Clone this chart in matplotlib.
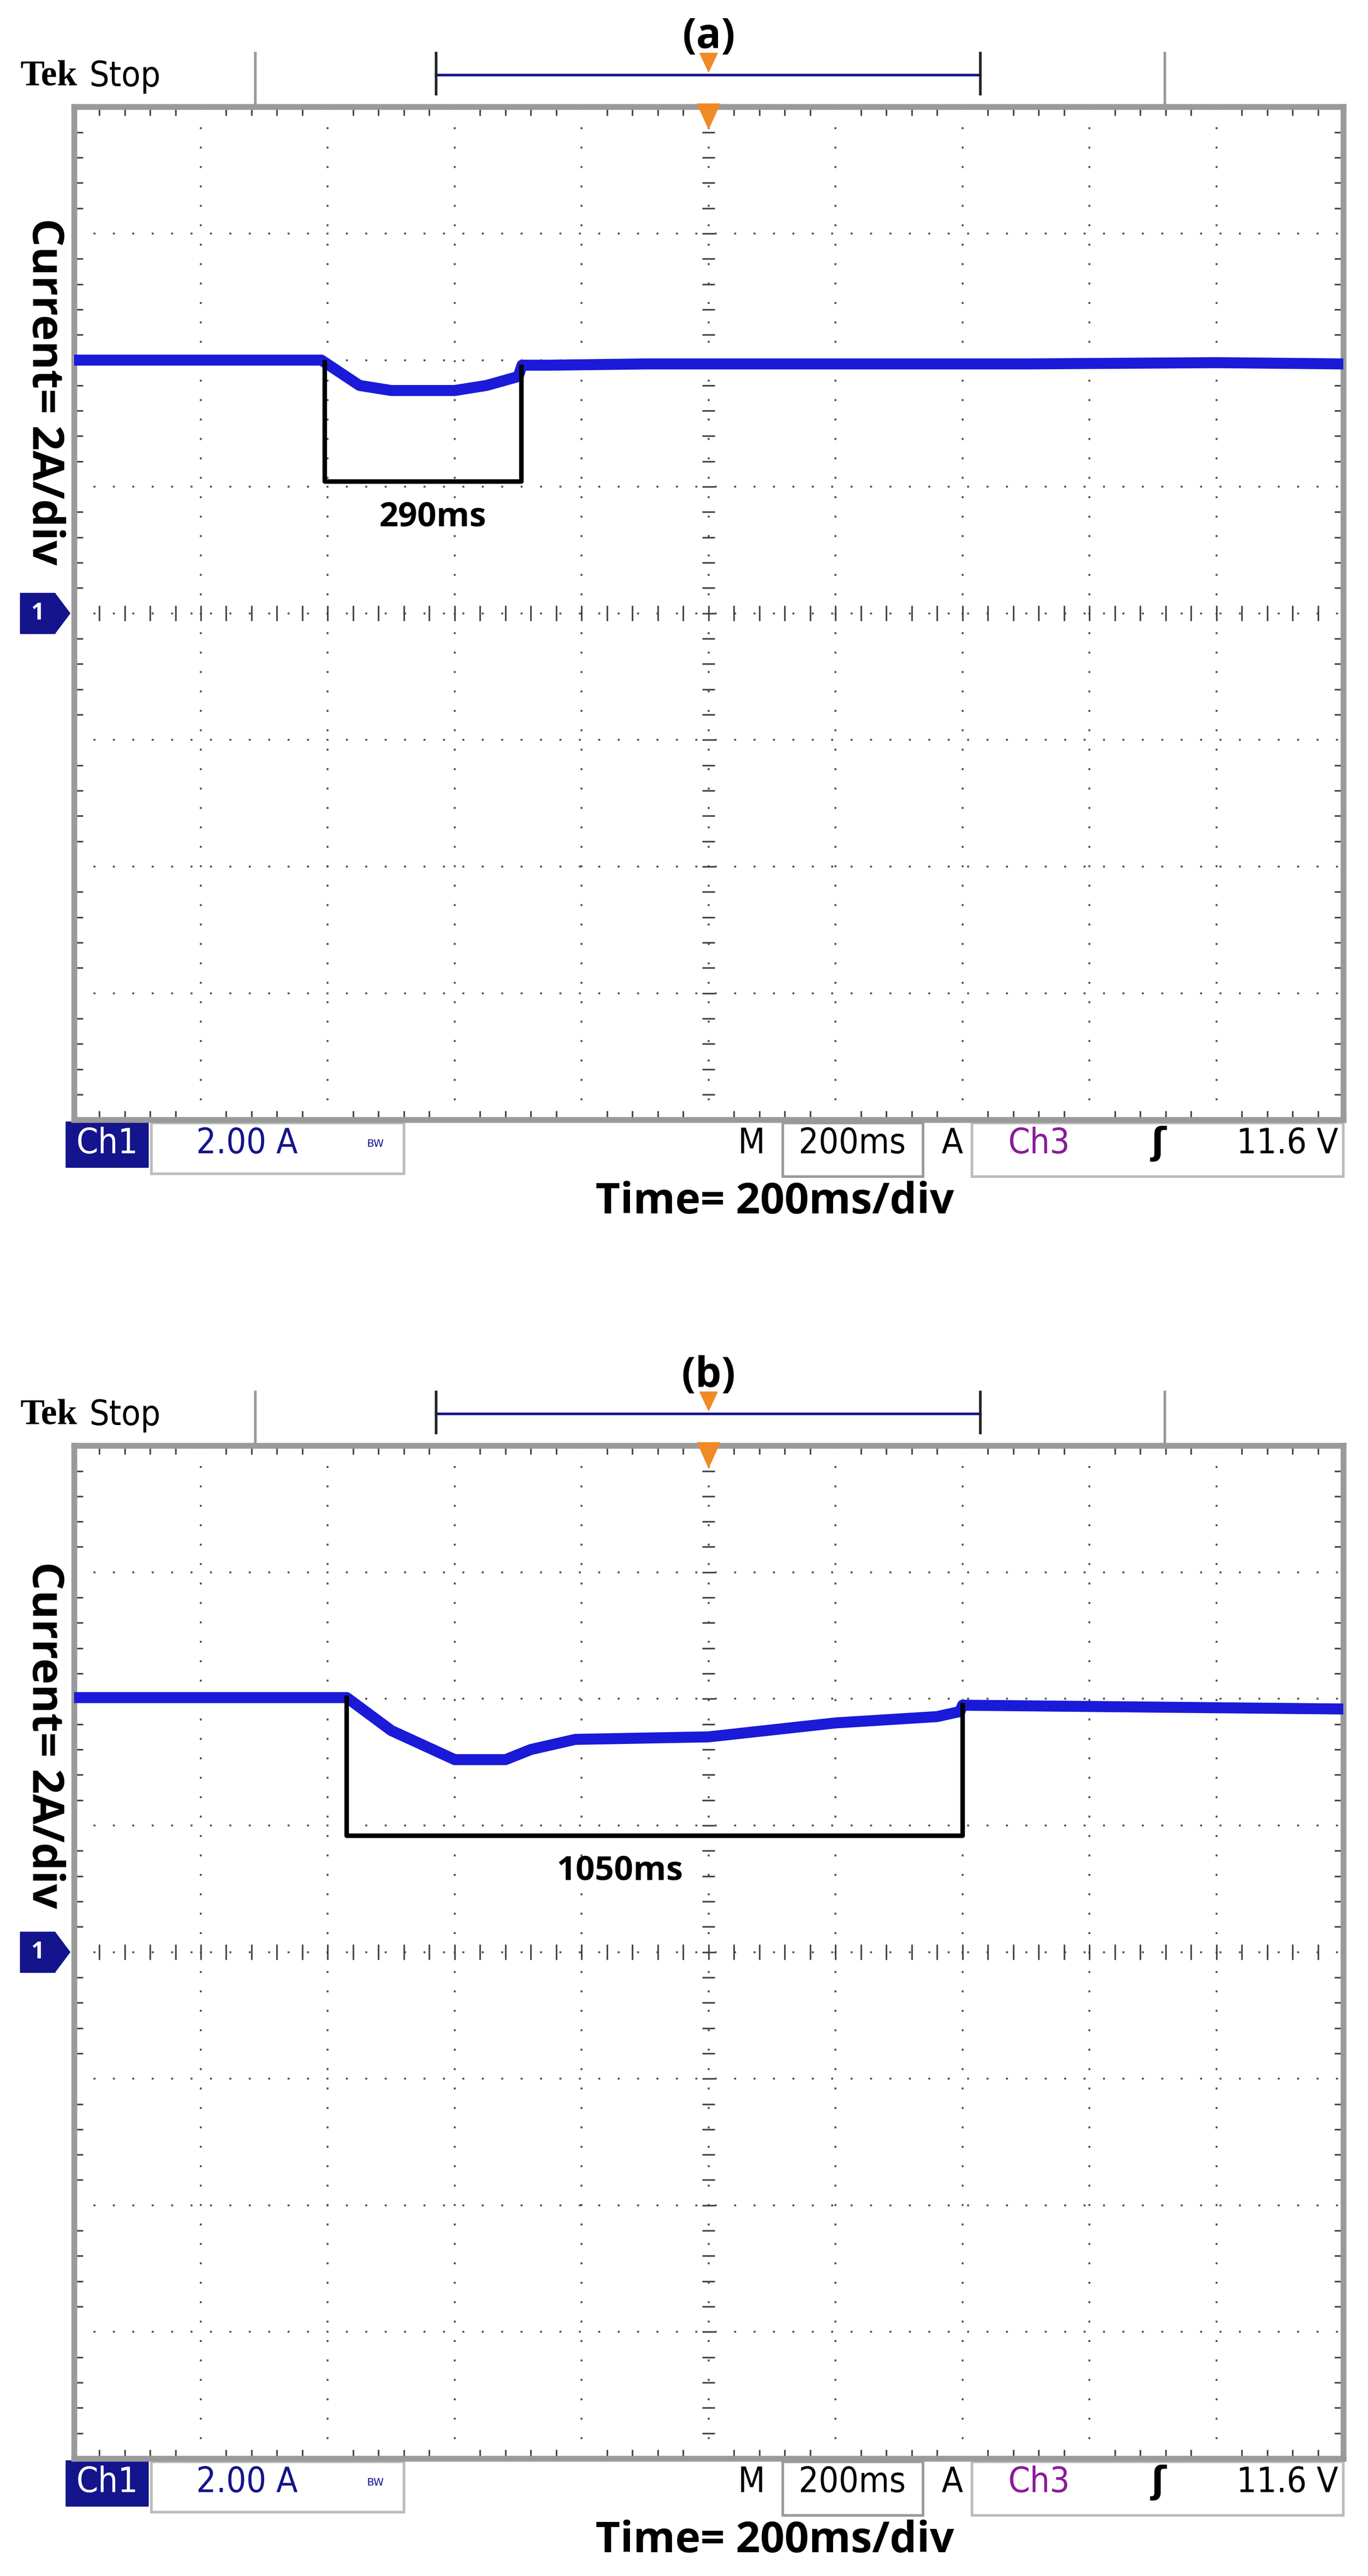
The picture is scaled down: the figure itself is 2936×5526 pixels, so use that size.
import numpy as np
import matplotlib.pyplot as plt
from matplotlib.patches import Rectangle, Polygon

# time in ms, current in A (2 A/div, 200 ms/div)
a_time = [0, 390, 420, 450, 500, 600, 650, 700, 706, 750, 900, 1200, 1500, 1800, 2000]
a_current = [4.0, 4.0, 3.8, 3.6, 3.52, 3.52, 3.6, 3.74, 3.92, 3.92, 3.94, 3.94, 3.94, 3.96, 3.94]
a_bracket = (395, 705, 2.08)
a_label = '290ms'
a_label_pos = (565, 1.52)

b_time = [0, 430, 500, 600, 680, 720, 790, 1000, 1200, 1360, 1396, 1400, 1600, 2000]
b_current = [4.02, 4.02, 3.5, 3.04, 3.04, 3.2, 3.36, 3.4, 3.62, 3.72, 3.8, 3.9, 3.88, 3.84]
b_bracket = (430, 1400, 1.84)
b_label = '1050ms'
b_label_pos = (860, 1.28)

BOLD = ['Open Sans', 'DejaVu Sans']
COND = ['DejaVu Sans']
TRACE = '#1a1ad8'
NAVY = '#14148c'
FS = 54


def status(ax, x, s, color='black', ha='center', **kw):
    ax.text(x, -8.38, s, color=color, fontsize=FS, ha=ha, va='center',
            family=COND, fontstretch='condensed', **kw)


def draw_panel(fig, bottom, t, cur, bracket, label, label_pos, title, ylab_y):
    ax = fig.add_axes([0.054, bottom, 0.928, 0.3932])
    ax.set_xlim(0, 2000)
    ax.set_ylim(-8, 8)
    ax.set_xticks(np.arange(0, 2001, 200))
    ax.set_yticks(np.arange(-8, 9, 2))
    ax.set_xticks(np.arange(0, 2001, 40), minor=True)
    ax.set_yticks(np.arange(-8, 8.1, 0.4), minor=True)
    ax.tick_params(which='both', direction='in', top=True, right=True,
                   labelbottom=False, labelleft=False, color='#444444')
    ax.tick_params(which='major', length=0)
    ax.tick_params(which='minor', length=14, width=2.5)
    for s in ax.spines.values():
        s.set_color('#9a9a9a')
        s.set_linewidth(9)
    ax.grid(True, which='major', color='#555555', linestyle=(0, (1, 9)), linewidth=3)
    # centre lines with fine ticks
    cx = np.arange(0, 2001, 40)
    cy = np.arange(-8, 8.1, 0.4)
    ax.vlines(cx, -0.12, 0.12, color='#444444', lw=2.5)
    ax.hlines(cy, 990, 1010, color='#444444', lw=2.5)

    ax.plot(t, cur, color=TRACE, lw=17, solid_joinstyle='round', zorder=3)
    t0, t1, yb = bracket
    y0 = np.interp(t0, t, cur)
    y1 = np.interp(t1, t, cur)
    ax.plot([t0, t0, t1, t1], [y0, yb, yb, y1], color='black', lw=7, zorder=4)
    ax.text(label_pos[0], label_pos[1], label, ha='center', va='center',
            fontsize=52, fontweight='bold', family=BOLD)

    # channel 1 ground marker
    ax.add_patch(Rectangle((-85, -0.32), 55, 0.64, color=NAVY, clip_on=False))
    ax.add_patch(Polygon([[-30, -0.32], [-6, 0], [-30, 0.32]], closed=True,
                         color=NAVY, clip_on=False))
    ax.text(-57, 0, '1', color='white', fontsize=36, fontweight='bold',
            ha='center', va='center', family=BOLD)
    # trigger marker on graticule
    ax.add_patch(Polygon([[1000 - 18, 8.05], [1000 + 18, 8.05], [1000, 7.65]],
                         closed=True, color='#f08a24', clip_on=False, zorder=5))

    ax.text(-47, ylab_y, 'Current= 2A/div', rotation=-90, ha='center', va='center',
            fontsize=68, fontweight='bold', family=BOLD)
    ax.text(1000, 9.1, title, ha='center', va='center', fontsize=64,
            fontweight='bold', family=BOLD)

    # header
    ax.text(-84, 8.48, 'Tek', ha='left', va='center', fontsize=56,
            fontweight='bold', family=['Liberation Serif', 'DejaVu Serif'])
    ax.text(24, 8.48, 'Stop', ha='left', va='center', fontsize=54,
            family=COND, fontstretch='condensed')
    for xs in [286, 1719]:
        ax.plot([xs, xs], [8.05, 8.85], color='#999999', lw=4, clip_on=False)
    ax.plot([571, 1428], [8.5, 8.5], color=NAVY, lw=4, clip_on=False)
    ax.plot([571, 571], [8.2, 8.85], color='#222222', lw=4, clip_on=False)
    ax.plot([1428, 1428], [8.2, 8.85], color='#222222', lw=4, clip_on=False)
    ax.add_patch(Polygon([[1000 - 14, 8.85], [1000 + 14, 8.85], [1000, 8.55]],
                         closed=True, color='#f08a24', clip_on=False))

    # status bar
    ax.add_patch(Rectangle((-13, -8.75), 130, 0.72, color=NAVY, clip_on=False))
    status(ax, 52, 'Ch1', color='white')
    ax.add_patch(Rectangle((122, -8.85), 398, 0.8, fill=False,
                           ec='#bbbbbb', lw=4, clip_on=False))
    status(ax, 273, '2.00 A', color=NAVY)
    ax.text(475, -8.38, 'BW', color=NAVY, fontsize=16, ha='center',
            va='center', family=COND)
    status(ax, 1067, 'M')
    ax.add_patch(Rectangle((1117, -8.9), 221, 0.85, fill=False,
                           ec='#999999', lw=4, clip_on=False))
    status(ax, 1226, '200ms')
    status(ax, 1384, 'A')
    ax.add_patch(Rectangle((1415, -8.9), 585, 0.85, fill=False,
                           ec='#bbbbbb', lw=4, clip_on=False))
    status(ax, 1520, 'Ch3', color='#8a1a9a')
    ax.text(1709, -8.38, 'ʃ', fontsize=56, ha='center', va='center',
            fontweight='bold', family=['DejaVu Sans'])
    status(ax, 1992, '11.6 V', ha='right')
    ax.text(1104, -9.3, 'Time= 200ms/div', ha='center', va='center',
            fontsize=66, fontweight='bold', family=BOLD)
    return ax


fig = plt.figure(figsize=(29.36, 55.26), dpi=100)
draw_panel(fig, 0.5653, a_time, a_current, a_bracket, a_label, a_label_pos, '(a)', 3.5)
draw_panel(fig, 0.0456, b_time, b_current, b_bracket, b_label, b_label_pos, '(b)', 3.43)
fig.savefig('out.png', dpi=100, facecolor='white')
